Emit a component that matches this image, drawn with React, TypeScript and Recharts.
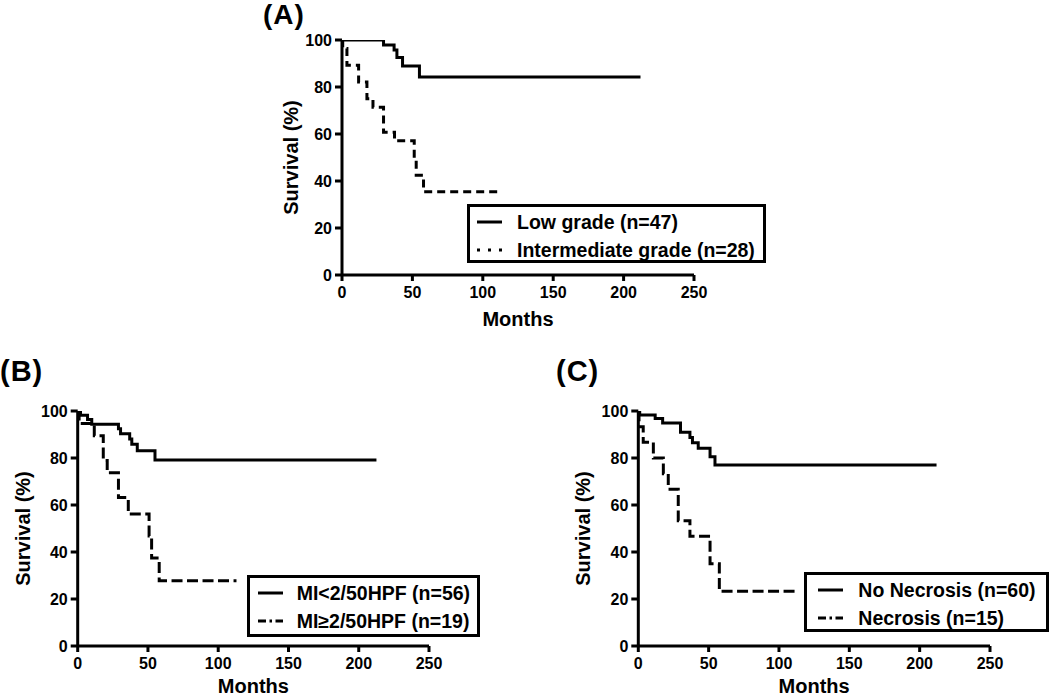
import React from 'react';
import { LineChart, Line, XAxis, YAxis, Legend, Label } from 'recharts';

const FONT = '"Liberation Sans", Arial, Helvetica, sans-serif';

// shared axis ticks
const monthTicks = [0, 50, 100, 150, 200, 250];
const survivalTicks = [0, 20, 40, 60, 80, 100];

// Panel A: tumour grade
const lowGradeMonths = [0, 29.5, 37, 39, 43, 55, 212];
const lowGradeSurvival = [100, 97.9, 95.7, 92.6, 88.9, 84.3, 84.3];
const interGradeMonths = [0, 0.5, 3.5, 11.8, 17.7, 22, 29.5, 37.3, 51.3, 52.7, 57.9, 112.3];
const interGradeSurvival = [100, 96.4, 89.3, 82.1, 75, 71.4, 60.7, 57.1, 49, 42.5, 35.4, 35.4];

// Panel B: mitotic index
const miLowMonths = [0, 2, 7, 10, 29, 30.5, 37, 38.5, 42.4, 55, 212.6];
const miLowSurvival = [100, 98.2, 96.4, 94.4, 92.4, 90.3, 88.1, 85.8, 83.1, 79.2, 79.2];
const miHighMonths = [0, 1, 11.8, 18.2, 21, 29, 36, 50.8, 52.6, 58, 113];
const miHighSurvival = [100, 94.7, 89.5, 78.9, 73.7, 63.2, 56.2, 46.8, 37.4, 27.8, 27.8];

// Panel C: necrosis
const noNecMonths = [0, 1, 12, 17.3, 30, 36.7, 38.5, 42.6, 51, 54.5, 212];
const noNecSurvival = [100, 98.3, 96.8, 94.9, 91, 88.7, 86.5, 84.1, 80.5, 77, 77];
const necMonths = [0, 0.5, 3.5, 10.7, 17.8, 21.3, 28.4, 36.7, 51, 57.6, 112.6];
const necSurvival = [100, 93.3, 86.7, 80, 73.3, 66.7, 53.3, 46.7, 35, 23.3, 23.3];

const panelTitles = ['(A)', '(B)', '(C)'];
const legendA = ['Low grade (n=47)', 'Intermediate grade (n=28)'];
const legendB = ['MI<2/50HPF (n=56)', 'MI\u22652/50HPF (n=19)'];
const legendC = ['No Necrosis (n=60)', 'Necrosis (n=15)'];

const toData = (m: number[], s: number[]) => m.map((t, i) => ({ t, s: s[i] }));

type Sample = 'solid' | 'dotted' | 'dashdot';

const SampleLine = ({ kind }: { kind: Sample }) => {
  const dash = kind === 'solid' ? undefined : kind === 'dotted' ? '3 8' : '8 3.5 2.5 3.5 8';
  return (
    <svg width={26} height={8} style={{ display: 'block' }}>
      <line x1={0} y1={4} x2={25} y2={4} stroke="#000" strokeWidth={3} strokeDasharray={dash} />
    </svg>
  );
};

const LegendBox = ({ width, height, rows, sampleX, textX, labels, samples }: any) => (
  <div
    style={{
      position: 'relative',
      width,
      height,
      boxSizing: 'border-box',
      border: '3px solid #000',
      background: '#fff',
      fontFamily: FONT,
      fontWeight: 'bold',
      fontSize: 19.5,
      color: '#000',
    }}
  >
    {labels.map((lab: string, i: number) => (
      <React.Fragment key={lab}>
        <div style={{ position: 'absolute', left: sampleX - 3, top: rows[i] - 3 - 4 }}>
          <SampleLine kind={samples[i]} />
        </div>
        <div
          style={{
            position: 'absolute',
            left: textX - 3,
            top: rows[i] - 3 - 11,
            lineHeight: '22px',
            whiteSpace: 'nowrap',
          }}
        >
          {lab}
        </div>
      </React.Fragment>
    ))}
  </div>
);

const YLabel = (props: any) => {
  const { viewBox, dx } = props;
  const cx = viewBox.x + dx;
  const cy = viewBox.y + viewBox.height / 2;
  return (
    <text
      x={cx}
      y={cy}
      transform={`rotate(-90, ${cx}, ${cy})`}
      textAnchor="middle"
      dominantBaseline="central"
      fontSize={20}
      fontWeight="bold"
      fontFamily={FONT}
      fill="#000"
    >
      Survival (%)
    </text>
  );
};

const XLabel = (props: any) => {
  const { viewBox, dy } = props;
  return (
    <text
      x={viewBox.x + viewBox.width / 2}
      y={viewBox.y + dy}
      textAnchor="middle"
      fontSize={20}
      fontWeight="bold"
      fontFamily={FONT}
      fill="#000"
    >
      Months
    </text>
  );
};

const tickStyle = { fill: '#000', fontSize: 16, fontWeight: 'bold', fontFamily: FONT };
const axisLine = { stroke: '#000', strokeWidth: 3 };

type PanelProps = {
  left: number;
  top: number;
  width: number;
  height: number;
  margin: { top: number; right: number; bottom: number; left: number };
  yLabelDx: number;
  xLabelDy: number;
  series: { data: { t: number; s: number }[]; dash?: string }[];
  legend: any;
};

const Panel = ({ left, top, width, height, margin, yLabelDx, xLabelDy, series, legend }: PanelProps) => (
  <div style={{ position: 'absolute', left, top, width, height }}>
    <LineChart width={width} height={height} margin={margin}>
      <XAxis
        type="number"
        dataKey="t"
        domain={[0, 250]}
        ticks={monthTicks}
        interval={0}
        allowDataOverflow
        height={50}
        tickSize={6}
        tickMargin={6}
        tick={tickStyle}
        axisLine={axisLine}
        tickLine={axisLine}
      >
        <Label content={(p: any) => <XLabel {...p} dy={xLabelDy} />} />
      </XAxis>
      <YAxis
        type="number"
        domain={[0, 100]}
        ticks={survivalTicks}
        interval={0}
        allowDataOverflow
        width={60}
        tickSize={7}
        tickMargin={3}
        tick={tickStyle}
        axisLine={axisLine}
        tickLine={axisLine}
      >
        <Label content={(p: any) => <YLabel {...p} dx={yLabelDx} />} />
      </YAxis>
      {series.map((sr, i) => (
        <Line
          key={i}
          data={sr.data}
          dataKey="s"
          type="stepAfter"
          stroke="#000"
          strokeWidth={3}
          strokeDasharray={sr.dash}
          dot={false}
          activeDot={false}
          isAnimationActive={false}
        />
      ))}
      <Legend
        layout="vertical"
        align="center"
        verticalAlign="middle"
        wrapperStyle={{
          position: 'absolute',
          left: legend.left,
          top: legend.top,
          width: legend.width,
          height: legend.height,
          margin: 0,
        }}
        content={() => <LegendBox {...legend} />}
      />
    </LineChart>
  </div>
);

const titleStyle = (left: number, top: number, size: number): React.CSSProperties => ({
  position: 'absolute',
  left,
  top,
  fontFamily: FONT,
  fontWeight: 'bold',
  fontSize: size,
  lineHeight: `${size}px`,
  color: '#000',
  whiteSpace: 'nowrap',
  letterSpacing: 1,
});

export default function App() {
  return (
    <div
      style={{
        position: 'absolute',
        left: 0,
        top: 0,
        width: 1050,
        height: 698,
        background: '#fff',
        overflow: 'hidden',
      }}
    >
      <div style={titleStyle(263, 1, 28)}>{panelTitles[0]}</div>
      <div style={titleStyle(0, 357, 29)}>{panelTitles[1]}</div>
      <div style={titleStyle(556, 357, 29)}>{panelTitles[2]}</div>

      <Panel
        left={230}
        top={0}
        width={570}
        height={335}
        margin={{ top: 40, right: 106, bottom: 10, left: 52 }}
        yLabelDx={9}
        xLabelDy={51}
        series={[
          { data: toData(lowGradeMonths, lowGradeSurvival) },
          { data: toData(interGradeMonths, interGradeSurvival), dash: '8 5' },
        ]}
        legend={{
          left: 237,
          top: 204,
          width: 299,
          height: 59,
          rows: [17.7, 46],
          sampleX: 10,
          textX: 50,
          labels: legendA,
          samples: ['solid', 'dotted'],
        }}
      />

      <Panel
        left={0}
        top={335}
        width={520}
        height={363}
        margin={{ top: 76, right: 91, bottom: 2, left: 17.7 }}
        yLabelDx={5}
        xLabelDy={47}
        series={[
          { data: toData(miLowMonths, miLowSurvival) },
          { data: toData(miHighMonths, miHighSurvival), dash: '11 4.5' },
        ]}
        legend={{
          left: 246.7,
          top: 240,
          width: 233,
          height: 62,
          rows: [18, 45.7],
          sampleX: 11.3,
          textX: 50,
          labels: legendB,
          samples: ['solid', 'dashdot'],
        }}
      />

      <Panel
        left={530}
        top={335}
        width={520}
        height={363}
        margin={{ top: 76, right: 60, bottom: 2, left: 48.3 }}
        yLabelDx={4.5}
        xLabelDy={47}
        series={[
          { data: toData(noNecMonths, noNecSurvival) },
          { data: toData(necMonths, necSurvival), dash: '11 4.5' },
        ]}
        legend={{
          left: 274.3,
          top: 236.7,
          width: 245,
          height: 60,
          rows: [18.3, 46.6],
          sampleX: 14,
          textX: 54,
          labels: legendC,
          samples: ['solid', 'dashdot'],
        }}
      />
    </div>
  );
}
